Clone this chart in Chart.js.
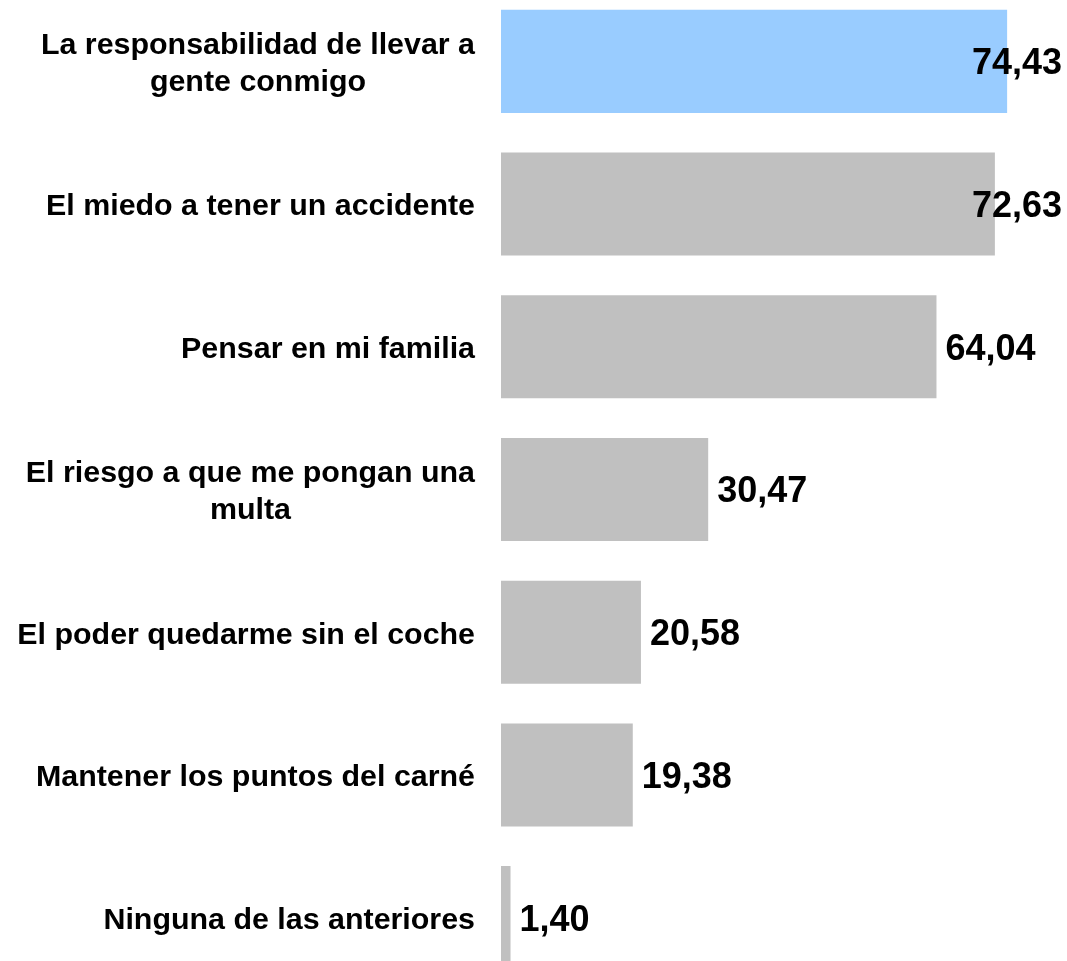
<!DOCTYPE html>
<html>
<head>
<meta charset="utf-8">
<script src="https://cdn.jsdelivr.net/npm/chart.js@4/dist/chart.umd.min.js"></script>
<style>
  html, body { margin: 0; padding: 0; background: #fff; overflow: hidden; }
  #wrap { position: absolute; left: 0; top: -10px; width: 1067px; height: 999px; }
</style>
</head>
<body>
<div id="wrap"><canvas id="chart" width="1067" height="999"></canvas></div>
<script>
// categorias (cada una en lineas, como en el original)
const categories = [
    ["La responsabilidad de llevar a", "gente conmigo"],
    ["El miedo a tener un accidente"],
    ["Pensar en mi familia"],
    ["El riesgo a que me pongan una", "multa"],
    ["El poder quedarme sin el coche"],
    ["Mantener los puntos del carné"],
    ["Ninguna de las anteriores"]
];

const values = [74.43, 72.63, 64.04, 30.47, 20.58, 19.38, 1.40];

const barColors = ["#99CCFF", "#C0C0C0", "#C0C0C0", "#C0C0C0", "#C0C0C0", "#C0C0C0", "#C0C0C0"];

const FONT = '"Liberation Sans", Arial, sans-serif';

// dibuja las etiquetas de categoria y los valores a mano
const labelsPlugin = {
    id: "labels",
    afterDatasetsDraw(chart) {
        const ctx = chart.ctx;
        const yScale = chart.scales.y;
        const meta = chart.getDatasetMeta(0);
        ctx.save();
        ctx.fillStyle = "#000";
        ctx.textBaseline = "middle";

        // categorias: bloque alineado a la derecha, lineas centradas entre si
        ctx.font = "bold 30.4px " + FONT;
        ctx.textAlign = "center";
        const rightEdge = 475;
        const lineH = 37;
        categories.forEach((lines, i) => {
            const y = yScale.getPixelForValue(i) + 3;
            const maxW = Math.max(...lines.map(l => ctx.measureText(l).width));
            const cx = rightEdge - maxW / 2;
            const y0 = y - (lines.length - 1) * lineH / 2;
            lines.forEach((l, j) => ctx.fillText(l, cx, y0 + j * lineH));
        });

        // valores al final de la barra, sin salirse del lienzo
        ctx.font = "bold 36px " + FONT;
        ctx.textAlign = "left";
        meta.data.forEach((bar, i) => {
            const txt = values[i].toFixed(2).replace(".", ",");
            const w = ctx.measureText(txt).width;
            let x = bar.x + 9;
            if (x + w > 1062) x = 1062 - w;
            ctx.fillText(txt, x, bar.y + 3);
        });
        ctx.restore();
    }
};

const config = {
    type: "bar",
    data: {
        labels: categories,
        datasets: [
            {
                data: values,
                backgroundColor: barColors,
                borderWidth: 0,
                barPercentage: 0.722,
                categoryPercentage: 1.0
            }
        ]
    },
    options: {
        indexAxis: "y",
        responsive: false,
        animation: false,
        layout: { padding: { left: 501, right: 22, top: 0, bottom: 0 } },
        plugins: {
            legend: { display: false },
            tooltip: { enabled: false }
        },
        scales: {
            x: { display: false, min: 0, max: 80 },
            y: { display: false }
        }
    },
    plugins: [labelsPlugin]
};

const myChart = new Chart(document.getElementById("chart"), config);
</script>
</body>
</html>
